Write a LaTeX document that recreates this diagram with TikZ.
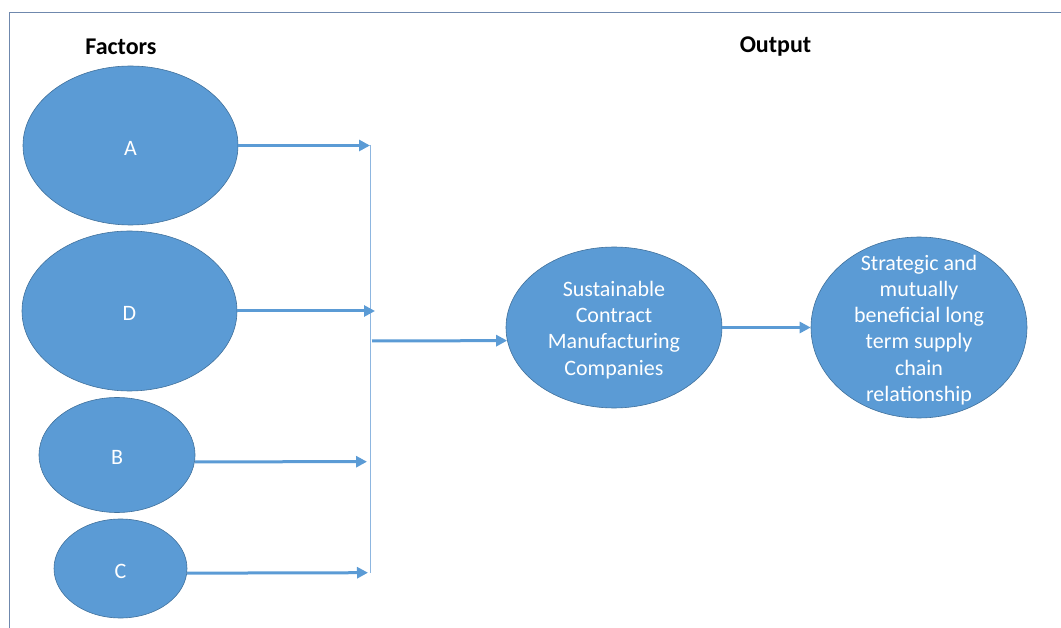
\documentclass[tikz,border=0pt]{standalone}
\usepackage{fontspec}
\setmainfont{Carlito}
\usetikzlibrary{shapes.geometric,arrows.meta}
\definecolor{fillblue}{HTML}{5B9BD5}
\definecolor{edgeblue}{HTML}{41719C}
\definecolor{busblue}{HTML}{8DB6E0}
\definecolor{framecol}{HTML}{6F88AD}
\begin{document}
\begin{tikzpicture}[x=1pt,y=-1pt,
  oval/.style={ellipse,draw=edgeblue,line width=0.6pt,fill=fillblue,inner sep=0pt},
  ovaltext/.style={text=white,align=center,inner sep=0pt,yshift=-2.5pt,font=\fontsize{22}{26.2}\selectfont},
  heading/.style={font=\fontsize{24}{28}\selectfont\bfseries,inner sep=0pt},
  arr/.style={draw=fillblue,line width=3pt,-{Triangle[length=11pt,width=11pt]}},
  busline/.style={draw=busblue,line width=1pt}]
\useasboundingbox (0,0) rectangle (1061,628);
% partial frame
\draw[framecol,line width=1pt] (9.5,628) -- (9.5,13) -- (1061,13);

% headings
\node[heading] (hf) at (121,47) {Factors};
\node[heading] (ho) at (775.5,47) {Output};

% factor ovals
\node[oval,minimum width=215pt,minimum height=159pt,label={[ovaltext]center:A}] (A) at (130.5,145.5) {};
\node[oval,minimum width=215pt,minimum height=160pt,label={[ovaltext]center:D}] (D) at (129.5,311) {};
\node[oval,minimum width=156pt,minimum height=115pt,label={[ovaltext]center:B}] (B) at (117,455) {};
\node[oval,minimum width=133pt,minimum height=99pt,label={[ovaltext]center:C}] (C) at (120.5,568.5) {};

% output ovals
\node[oval,minimum width=216pt,minimum height=161pt,
  label={[ovaltext]center:Sustainable\\Contract\\Manufacturing\\Companies}] (S) at (614,327.5) {};
\node[oval,minimum width=216pt,minimum height=181pt,
  label={[ovaltext]center:Strategic and\\mutually\\beneficial long\\term supply\\chain\\relationship}] (R) at (919,327.5) {};

% collecting bus
\coordinate (busTop) at (370,145);
\coordinate (busBot) at (370,573);
\draw[busline] (busTop) -- (busBot);

\coordinate (tipA) at (370,145.5);
\coordinate (tipD) at (375,311);
\coordinate (tipB) at (367,461.7);
\coordinate (tipC) at (368,572.7);
\coordinate (busOut) at (372,341);

\draw[arr] (A.east) -- (tipA);
\draw[arr] (D.east) -- (tipD);
\draw[arr] (B.-5) -- (tipB);
\draw[arr] (C.-4) -- (tipC);
\draw[arr] (busOut) -- (S.187);
\draw[arr] (S.east) -- (R.west);
\end{tikzpicture}
\end{document}
